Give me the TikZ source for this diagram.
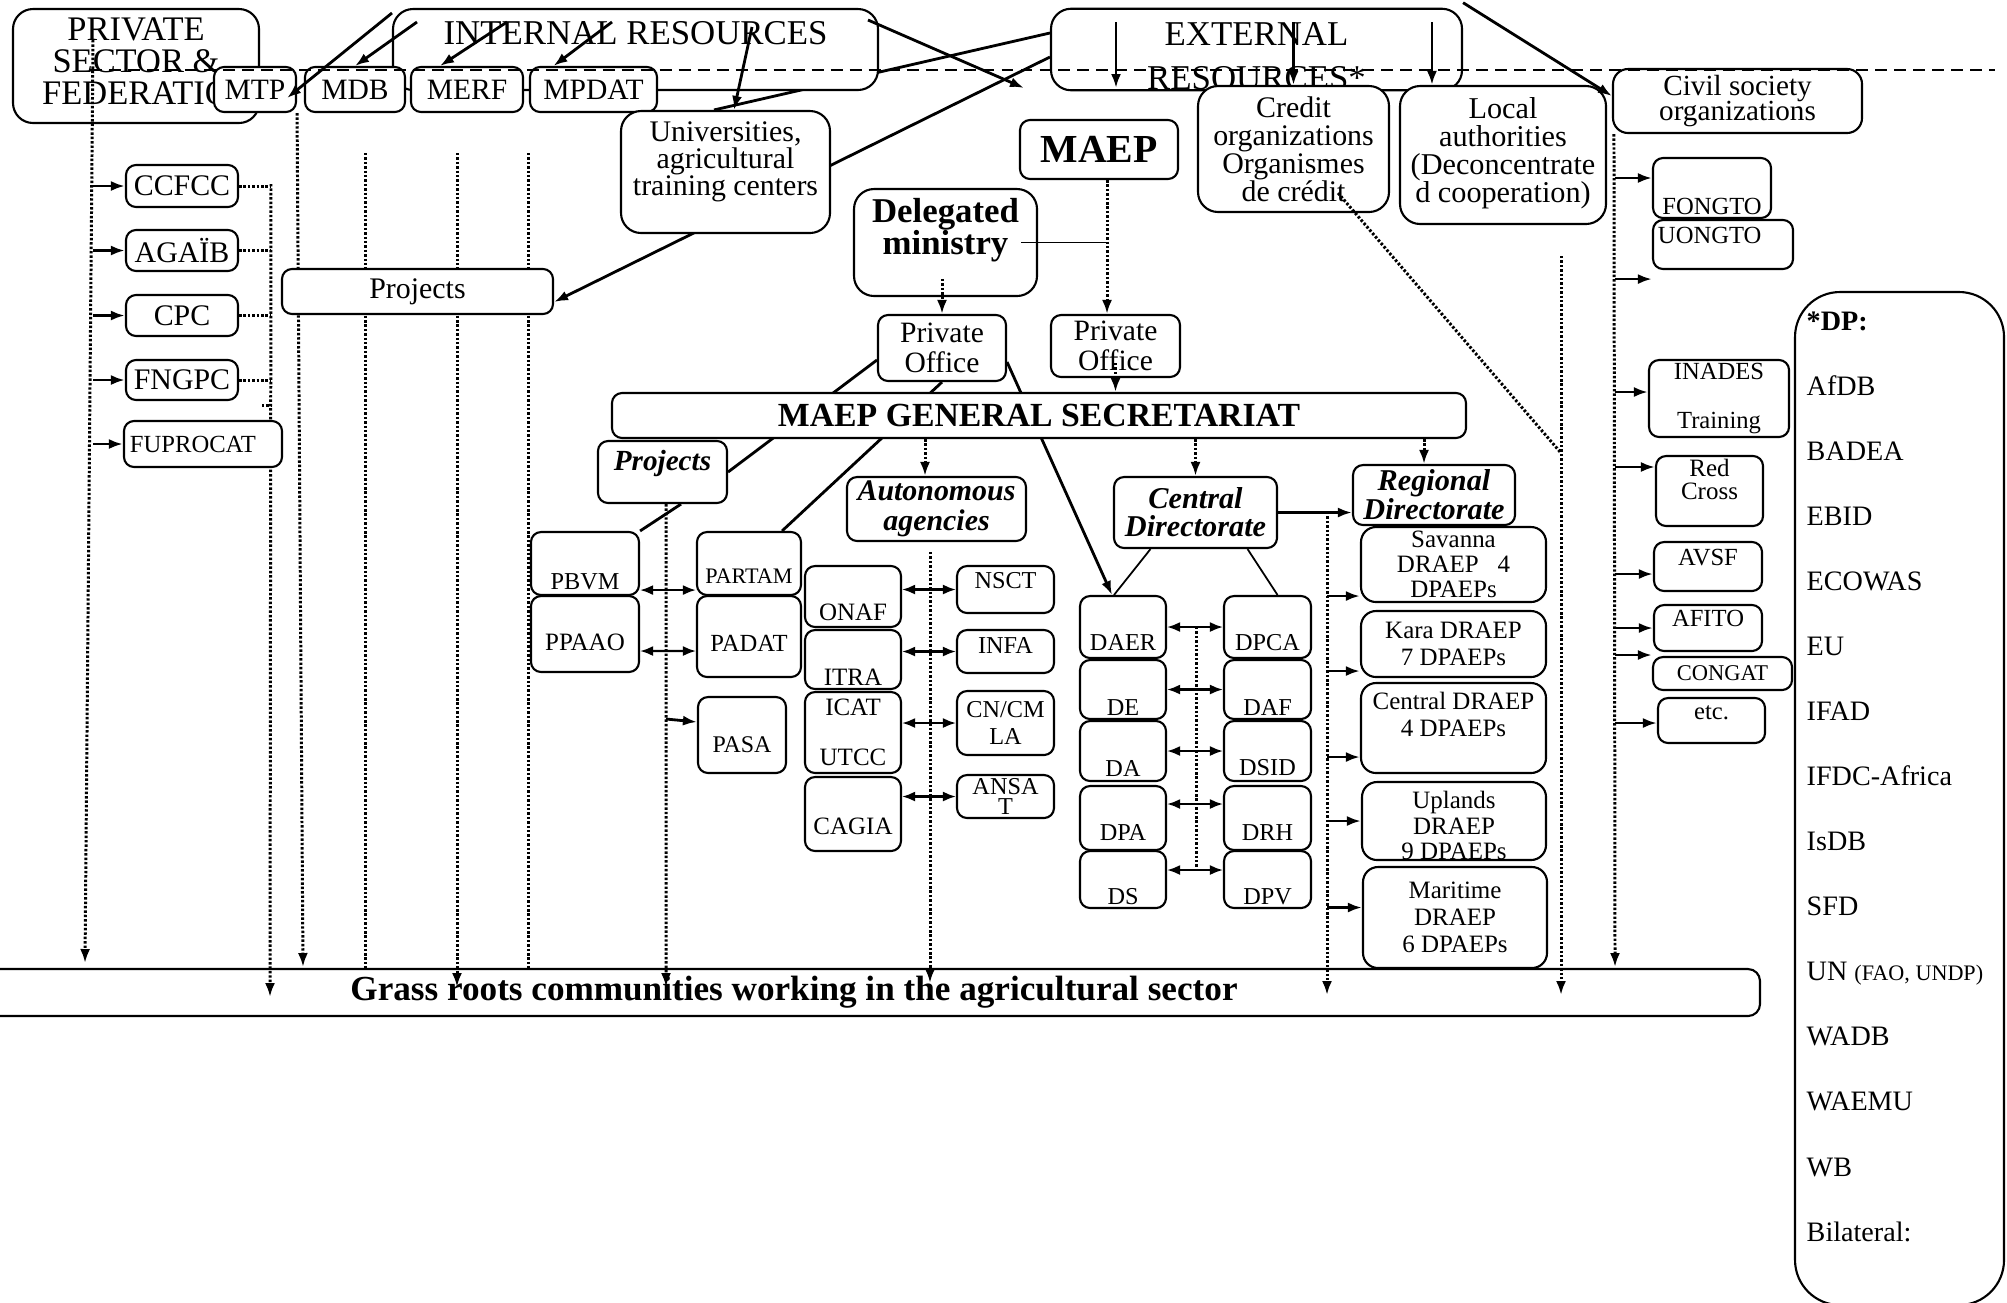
\documentclass[tikz,border=0pt]{standalone}
\usepackage{fontspec}
\setmainfont{Liberation Serif}
\usetikzlibrary{arrows.meta,backgrounds}
\newcommand\fsz[2]{\fontsize{#1}{#2}\selectfont\lineskiplimit=-\maxdimen}
\newcommand\blankln{\vphantom{X}}

\begin{document}
\begin{tikzpicture}[x=0.01cm, y=-0.01cm]
    \tikzset{
        box/.style={draw, line width=0.6pt, rounded corners=0.1cm, fill=white, align=center, inner sep=0pt},
        sz/.style 2 args={minimum width=#1*0.01cm, minimum height=#2*0.01cm},
        big/.style={rounded corners=0.2cm},
        arr/.style={-{Latex[length=0.14cm,width=0.1cm]}, line width=0.8pt},
        dbl/.style={{Latex[length=0.13cm,width=0.1cm]}-{Latex[length=0.13cm,width=0.1cm]}, line width=0.6pt},
        link/.style={line width=0.8pt},
        thinlink/.style={line width=0.5pt},
        dotl/.style={line width=0.85pt, dash pattern=on 0.7pt off 0.55pt},
        dotarr/.style={dotl, -{Latex[length=0.14cm,width=0.1cm]}},
        dashline/.style={line width=0.8pt, dash pattern=on 3.4pt off 2pt}
    }
    \useasboundingbox (0,0) rectangle (2007,1302);

    % resources
    \node[box, big, sz={246}{114}, font=\fsz{9.8}{9.1}] (privsec) at (136,66) {PRIVATE\\SECTOR \&\\FEDERATIO\\[-6.3pt]\blankln};
    \node[box, big, sz={485}{81}, font=\fsz{9.9}{9.4}] (internal) at (635.5,49.5) {INTERNAL RESOURCES\\\blankln};
    \node[box, big, sz={411}{81}, font=\fsz{9.9}{12.5}] (external) at (1256.5,49.5) {\blankln\\[-8.4pt]EXTERNAL\\RESOURCES*};
    \node[box, sz={82}{45}, font=\fsz{8.4}{9}] (mtp) at (255,89.5) {MTP};
    \node[box, sz={100}{45}, font=\fsz{8.4}{9}] (mdb) at (355,89.5) {MDB};
    \node[box, sz={112}{45}, font=\fsz{8.4}{9}] (merf) at (467,89.5) {MERF};
    \node[box, sz={127}{45}, font=\fsz{8.4}{9}] (mpdat) at (593.5,89.5) {MPDAT};
    \node[box, big, sz={209}{122}, font=\fsz{8.5}{7.7}] (univ) at (725.5,172) {Universities,\\agricultural\\training centers\\\blankln};
    \node[box, big, sz={191}{126}, font=\fsz{8.5}{8}] (credit) at (1293.5,149) {Credit\\organizations\\Organismes\\de crédit};
    \node[box, big, sz={206}{138}, font=\fsz{8.6}{7.9}] (local) at (1503,155) {Local\\authorities\\(Deconcentrate\\d cooperation)\\[-5.1pt]\blankln};
    \node[box, rounded corners=0.15cm, sz={249}{64}, font=\fsz{8.3}{7.3}] (civil) at (1737.5,101) {Civil society\\organizations};

    % private sector
    \node[box, sz={112}{42}, font=\fsz{8.5}{9}] (ccfcc) at (182,186) {CCFCC};
    \node[box, sz={112}{41}, font=\fsz{8.5}{9}] (agaib) at (182,250.5) {AGAÏB};
    \node[box, sz={112}{41}, font=\fsz{8.5}{9}] (cpc) at (182,315.5) {CPC};
    \node[box, sz={112}{40}, font=\fsz{8.5}{9}] (fngpc) at (182,380) {FNGPC};
    \node[box, sz={158}{46}, text width=1.46cm, align=left, font=\fsz{7}{9}] (fuprocat) at (203,444) {FUPROCAT};
    \node[box, sz={271}{45}, font=\fsz{8.5}{9}] (projup) at (417.5,291.5) {Projects};

    % ministry
    \node[box, sz={158}{59}, font=\bfseries\fsz{11.3}{12}] (maep) at (1099,149.5) {MAEP};
    \node[box, big, sz={183}{107}, font=\bfseries\fsz{9.9}{9.1}] (delmin) at (945.5,242.5) {Delegated\\ministry\\\blankln};
    \node[box, sz={128}{66}, font=\fsz{8.4}{8.5}] (po1) at (942,348) {Private\\Office};
    \node[box, sz={129}{62}, font=\fsz{8.4}{8.5}] (po2) at (1115.5,346) {Private\\Office};
    \node[box, sz={854}{45}, font=\bfseries\fsz{9.6}{10}] (sg) at (1039,415.5) {MAEP GENERAL SECRETARIAT};

    % secretariat units
    \node[box, sz={129}{62}, font=\bfseries\itshape\fsz{8.3}{6.8}] (projlow) at (662.5,472) {Projects\\\blankln};
    \node[box, sz={179}{64}, font=\bfseries\itshape\fsz{8.5}{8.5}] (auton) at (936.5,509) {Autonomous\\agencies};
    \node[box, sz={163}{71}, font=\bfseries\itshape\fsz{8.6}{8}] (central) at (1195.5,512.5) {Central\\Directorate};
    \node[box, sz={162}{60}, font=\bfseries\itshape\fsz{8.6}{8.2}] (regional) at (1434,495) {Regional\\Directorate};

    % projects
    \node[box, sz={108}{63}, font=\fsz{6.9}{10.5}] (pbvm) at (585,563.5) {\blankln\\PBVM};
    \node[box, sz={108}{76}, font=\fsz{7.1}{4.6}] (ppaao) at (585,634) {\blankln\\PPAAO};
    \node[box, sz={104}{63}, font=\fsz{6.3}{7.4}] (partam) at (749,563.5) {\blankln\\PARTAM};
    \node[box, sz={104}{81}, font=\fsz{7}{4}] (padat) at (749,636.5) {\blankln\\PADAT};
    \node[box, sz={88}{76}, font=\fsz{6.8}{5.7}] (pasa) at (742,735) {\blankln\\PASA};

    % autonomous agencies
    \node[box, sz={96}{61}, font=\fsz{7.1}{8.8}] (onaf) at (853,596.5) {\blankln\\ONAF};
    \node[box, sz={96}{59}, font=\fsz{7.1}{10}] (itra) at (853,659.5) {\blankln\\ITRA};
    \node[box, sz={96}{81}, font=\fsz{7.1}{7.1}] (icat) at (853,732.5) {ICAT\\\blankln\\UTCC};
    \node[box, sz={96}{74}, font=\fsz{7.1}{6.8}] (cagia) at (853,814) {\blankln\\CAGIA};
    \node[box, sz={97}{47}, font=\fsz{6.9}{5.4}] (nsct) at (1005.5,589.5) {NSCT\\\blankln};
    \node[box, sz={97}{43}, font=\fsz{6.9}{3.7}] (infa) at (1005.5,651.5) {INFA\\\blankln};
    \node[box, sz={97}{64}, font=\fsz{6.9}{7.7}] (cncmla) at (1005.5,723) {CN/CM\\LA};
    \node[box, sz={97}{43}, font=\fsz{6.9}{5.7}] (ansat) at (1005.5,796.5) {ANSA\\T};

    % central directorates
    \foreach \l/\lt/\r/\rt/\y/\h/\s in {daer/DAER/dpca/DPCA/627/62/9.1, de/DE/daf/DAF/689.5/59/10,
        da/DA/dsid/DSID/751/60/9.7, dpa/DPA/drh/DRH/818/64/8.5, ds/DS/dpv/DPV/879.5/57/10}{
        \node[box, sz={86}{\h}, font=\fsz{6.9}{\s}] (\l) at (1123,\y) {\blankln\\\lt};
        \node[box, sz={87}{\h}, font=\fsz{6.9}{\s}] (\r) at (1267.5,\y) {\blankln\\\rt};
    }

    % regional directorates
    \node[box, rounded corners=0.15cm, sz={185}{75}, font=\fsz{7.1}{7.1}] (savanna) at (1453.5,564.5) {Savanna\\DRAEP~~~4\\DPAEPs};
    \node[box, rounded corners=0.15cm, sz={185}{66}, font=\fsz{7.1}{7.7}] (kara) at (1453.5,644) {Kara DRAEP\\7 DPAEPs};
    \node[box, rounded corners=0.15cm, sz={185}{90}, font=\fsz{7.1}{7.7}] (centraldr) at (1453.5,728) {Central DRAEP\\4 DPAEPs\\\blankln};
    \node[box, rounded corners=0.15cm, sz={184}{78}, font=\fsz{7.1}{7.3}] (uplands) at (1454,821) {\blankln\\[-4.5pt]Uplands\\DRAEP\\9 DPAEPs};
    \node[box, rounded corners=0.15cm, sz={184}{101}, font=\fsz{7.1}{7.7}] (maritime) at (1455,917.5) {Maritime\\DRAEP\\6 DPAEPs};

    % civil society members
    \node[box, sz={118}{60}, font=\fsz{7}{10.8}] (fongto) at (1712,188) {\blankln\\FONGTO};
    \node[box, sz={140}{49}, text width=1.30cm, align=left, font=\fsz{7}{5.4}] (uongto) at (1723,244.5) {UONGTO\\\blankln};
    \node[box, sz={140}{77}, font=\fsz{7}{7.1}] (inades) at (1719,398.5) {INADES\\\blankln\\Training};
    \node[box, sz={107}{70}, font=\fsz{7.1}{6.5}] (redcross) at (1709.5,491) {Red\\Cross\\\blankln};
    \node[box, sz={108}{49}, font=\fsz{7}{5.4}] (avsf) at (1708,566.5) {AVSF\\\blankln};
    \node[box, sz={108}{46}, font=\fsz{7}{5.7}] (afito) at (1708,628) {AFITO\\\blankln};
    \node[box, sz={139}{33}, font=\fsz{6.4}{7}] (congat) at (1722.5,673.5) {CONGAT};
    \node[box, sz={107}{45}, font=\fsz{7}{4.3}] (etcbox) at (1711.5,720.5) {etc.\\\blankln};

    % partners and communities
    \node[box, fill=none, rounded corners=0.45cm, sz={209}{1013}] (dp) at (1899.5,798.5) {};
    \node[anchor=north west, align=left, inner sep=0pt, font=\fsz{8}{18.5}] (dplist) at (1806,311)
        {\textbf{*DP:}\\AfDB\\BADEA\\EBID\\ECOWAS\\EU\\IFAD\\IFDC-Africa\\IsDB\\SFD\\
         UN {\fontsize{6.3}{7}\selectfont(FAO, UNDP)}\\WADB\\WAEMU\\WB\\Bilateral:};
    \node[box, fill=none, rounded corners=0.12cm, sz={1932}{47}, font=\bfseries\fsz{10}{10}] (grass) at (794,992.5)
        {Grass roots communities working in the agricultural sector};

    % free ends
    \coordinate (ps1) at (93,40);
    \coordinate (ps2) at (85,963);
    \coordinate (fed1) at (271,184);
    \coordinate (fed2) at (270,997);
    \coordinate (fed3) at (262,405);
    \coordinate (mtpend) at (303,967);
    \coordinate (va1) at (365,153);
    \coordinate (va2) at (365,970);
    \coordinate (vb1) at (457,153);
    \coordinate (vb2) at (457,987);
    \coordinate (vc1) at (528,153);
    \coordinate (vc2) at (528,968);
    \coordinate (i1) at (392,13);
    \coordinate (i2) at (417,22);
    \coordinate (i3) at (507,22);
    \coordinate (i4) at (612,22);
    \coordinate (i5) at (752,27);
    \coordinate (i6) at (868,20);
    \coordinate (i7) at (1024,88);
    \coordinate (e1) at (1116,22);
    \coordinate (e2) at (1116,88);
    \coordinate (pj2) at (666,987);
    \coordinate (au1) at (930,552);
    \coordinate (au2) at (930,983);
    \coordinate (cd1) at (1196,627);
    \coordinate (cd2) at (1196,870);
    \coordinate (rd1) at (1327,512);
    \coordinate (rd2) at (1327,995);
    \coordinate (cr1) at (1561,256);
    \coordinate (cr2) at (1561,453);
    \coordinate (cr3) at (1561,995);
    \coordinate (cs2) at (1615,967);
    \coordinate (d1) at (90,70);
    \coordinate (d2) at (1995,70);

    % links hidden behind the boxes
    \begin{scope}[on background layer]
        \draw[link] ([yshift=0.165cm]external.west) -- ([xshift=-0.115cm]univ.north);
        \draw[arr] ([yshift=-0.075cm]external.west) -- ([yshift=-0.105cm]projup.east);
        \draw[link] ([yshift=-0.12cm]po1.west) -- (projlow.east);
        \draw[link] (po1.south) -- ([xshift=0.33cm]partam.north);
        \draw[arr] ([yshift=-0.14cm]po1.east) -- ([xshift=-0.11cm]daer.north);
        \draw[dotarr] (mtp.south east) -- (mtpend);
        \draw[dotl] (va1) -- (va2);
        \draw[dotarr] (vb1) -- (vb2);
        \draw[dotl] (vc1) -- (vc2);
        \draw[dotarr] (fed1) -- (fed2);
    \end{scope}

    % resources
    \draw[arr] (i1) -- ([xshift=-0.1cm,yshift=-0.085cm]mtp.east);
    \draw[arr] (i2) -- (mdb.north);
    \draw[arr] (i3) -- ([xshift=-0.27cm]merf.north);
    \draw[arr] (i4) -- ([xshift=-0.4cm]mpdat.north);
    \draw[arr] (i5) -- ([xshift=0.085cm]univ.north);
    \draw[arr] (i6) -- (i7);
    \draw[arr] (e1) -- (e2);
    \draw[arr] (credit.north |- e1) -- (credit.north);
    \draw[arr] ([xshift=-0.71cm]local.north |- e1) -- ([xshift=-0.71cm]local.north);
    \draw[arr] ([yshift=0.05cm]external.north east) -- ([yshift=0.05cm]civil.west);

    % ministry
    \draw[dotarr] ([xshift=0.08cm]maep.south) -- ([xshift=0.08cm]maep.south |- po2.north);
    \draw[thinlink] ([xshift=-0.17cm]delmin.east) -- ([xshift=0.08cm]maep.south |- delmin.east);
    \draw[dotarr] ([yshift=0.35cm]po1.north) -- (po1.north);
    \draw[dotarr] ([yshift=-0.17cm]po2.center) -- (po2.center |- sg.north);
    \draw[dotarr] ([xshift=-0.115cm]auton.north |- sg.south) -- ([xshift=-0.115cm]auton.north);
    \draw[dotarr] (central.north |- sg.south) -- (central.north);
    \draw[dotarr] ([xshift=-0.1cm]regional.north |- sg.south) -- ([xshift=-0.1cm]regional.north);

    % projects and agencies
    \draw[link] ([xshift=0.185cm]projlow.south) -- (pbvm.north east);
    \draw[dotarr] ([xshift=0.035cm]projlow.south) -- (pj2);
    \draw[arr] ([yshift=0.16cm]pasa.west -| pj2) -- ([yshift=0.13cm]pasa.west);
    \draw[dbl] ([yshift=0.06cm]pbvm.south east) -- ([yshift=0.06cm]partam.south west);
    \draw[dbl] ([yshift=-0.17cm]ppaao.east) -- ([yshift=-0.145cm]padat.west);
    \draw[dbl] (nsct.west -| onaf.east) -- (nsct.west);
    \draw[dbl] (infa.west -| itra.east) -- (infa.west);
    \draw[dbl] (cncmla.west -| icat.east) -- (cncmla.west);
    \draw[dbl] (ansat.west -| cagia.east) -- (ansat.west);
    \draw[dotarr] (au1) -- (au2);

    % directorates
    \draw[thinlink] ([xshift=-0.45cm]central.south) -- ([xshift=-0.09cm]daer.north);
    \draw[thinlink] ([xshift=0.52cm]central.south) -- ([xshift=0.1cm]dpca.north);
    \draw[arr] (central.east) -- (central.east -| regional.west);
    \foreach \l/\r/\s in {daer/dpca/0cm, de/daf/0cm, da/dsid/0cm, dpa/drh/0.14cm, ds/dpv/0.095cm}
        \draw[dbl] ([yshift=\s]\l.east) -- ([yshift=\s]\r.west);
    \draw[dotl] (cd1) -- (cd2);
    \draw[dotarr] (rd1) -- (rd2);
    \foreach \n/\s in {savanna/-0.315cm, kara/-0.27cm, centraldr/-0.29cm, uplands/0cm, maritime/0.1cm}
        \draw[arr] ([yshift=\s]\n.west -| rd1) -- ([yshift=\s]\n.west);

    % credit and civil society
    \draw[dotl] ([xshift=0.445cm,yshift=-0.44cm]credit.center) -- (cr2);
    \draw[dotarr] (cr1) -- (cr3);
    \draw[dotarr] ([xshift=0.02cm]civil.south west) -- (cs2);
    \foreach \n/\s in {fongto/0.1cm, inades/0.065cm, redcross/0.24cm, avsf/-0.075cm, afito/0cm, congat/0.185cm, etcbox/-0.025cm}
        \draw[arr] ([yshift=\s]\n.west -| cs2) -- ([yshift=\s]\n.west);
    \draw[arr] ([yshift=-0.09cm]uongto.south west -| cs2) -- ([yshift=-0.09cm]uongto.south west);

    % private sector
    \draw[dotarr] (ps1) -- (ps2);
    \foreach \n in {ccfcc,agaib,cpc,fngpc,fuprocat}
        \draw[arr] (\n.west -| ps1) -- (\n.west);
    \foreach \n in {ccfcc,agaib,cpc,fngpc}
        \draw[dotl] (\n.east) -- (\n.east -| fed1);
    \draw[dotl] (fed3) -- (fed3 -| fed1);

    \draw[dashline] (d1) -- (d2);
\end{tikzpicture}
\end{document}
